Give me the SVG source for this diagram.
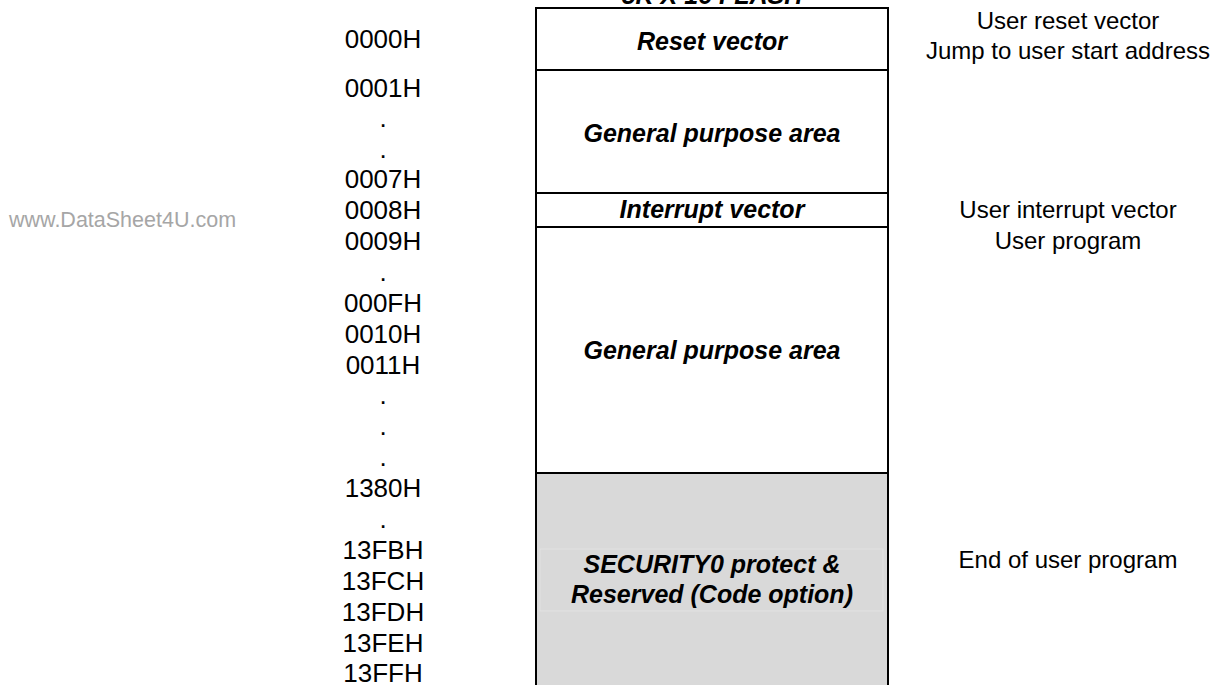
<svg xmlns="http://www.w3.org/2000/svg" width="1215" height="685" viewBox="0 0 1215 685">
  <style>
    .addr { font-family: "Liberation Sans", Arial, sans-serif; font-size: 26px; fill: #000; text-anchor: middle; }
    .note { font-family: "Liberation Sans", Arial, sans-serif; font-size: 24px; fill: #000; text-anchor: middle; }
    .area { font-family: "Liberation Sans", Arial, sans-serif; font-size: 25px; font-weight: bold; font-style: italic; fill: #000; text-anchor: middle; }
    .cell { fill: #fff; stroke: #000; stroke-width: 2; }
    .cell.gray { fill: #d9d9d9; }
    .wm { font-family: "Liberation Sans", Arial, sans-serif; font-size: 21.5px; fill: #a6a6a6; }
  </style>

  <rect width="1215" height="685" fill="#fff"/>

  <!-- memory map title (top edge of page) -->
  <text class="area" x="712" y="4">5K X 16 FLASH</text>

  <text class="wm" x="9" y="227">www.DataSheet4U.com</text>

  <!-- memory blocks -->
  <g id="reset-vector">
    <rect class="cell" x="536" y="8" width="352" height="62"/>
    <text class="area" x="712" y="50">Reset vector</text>
  </g>
  <g id="general-area-1">
    <rect class="cell" x="536" y="70" width="352" height="123"/>
    <text class="area" x="712" y="142">General purpose area</text>
  </g>
  <g id="interrupt-vector">
    <rect class="cell" x="536" y="193" width="352" height="34"/>
    <text class="area" x="712" y="218">Interrupt vector</text>
  </g>
  <g id="general-area-2">
    <rect class="cell" x="536" y="227" width="352" height="246"/>
    <text class="area" x="712" y="359">General purpose area</text>
  </g>
  <g id="security-area">
    <rect class="cell gray" x="536" y="473" width="352" height="230"/>
    <rect x="540" y="549" width="343" height="62" fill="#d9d9d9" stroke="#e2e2e2" stroke-width="1"/>
    <text class="area" x="712" y="573">SECURITY0 protect &amp;</text>
    <text class="area" x="712" y="603">Reserved (Code option)</text>
  </g>

  <!-- address column -->
  <g id="addresses">
    <text class="addr" x="383" y="48">0000H</text>
    <text class="addr" x="383" y="97">0001H</text>
    <text class="addr" x="383" y="127">.</text>
    <text class="addr" x="383" y="158">.</text>
    <text class="addr" x="383" y="188">0007H</text>
    <text class="addr" x="383" y="219">0008H</text>
    <text class="addr" x="383" y="250">0009H</text>
    <text class="addr" x="383" y="281">.</text>
    <text class="addr" x="383" y="312">000FH</text>
    <text class="addr" x="383" y="343">0010H</text>
    <text class="addr" x="383" y="374">0011H</text>
    <text class="addr" x="383" y="404">.</text>
    <text class="addr" x="383" y="435">.</text>
    <text class="addr" x="383" y="466">.</text>
    <text class="addr" x="383" y="497">1380H</text>
    <text class="addr" x="383" y="528">.</text>
    <text class="addr" x="383" y="559">13FBH</text>
    <text class="addr" x="383" y="590">13FCH</text>
    <text class="addr" x="383" y="621">13FDH</text>
    <text class="addr" x="383" y="652">13FEH</text>
    <text class="addr" x="383" y="682">13FFH</text>
  </g>

  <!-- descriptions -->
  <g id="notes">
    <text class="note" x="1068" y="29">User reset vector</text>
    <text class="note" x="1068" y="59">Jump to user start address</text>
    <text class="note" x="1068" y="218">User interrupt vector</text>
    <text class="note" x="1068" y="249">User program</text>
    <text class="note" x="1068" y="568">End of user program</text>
  </g>
</svg>
